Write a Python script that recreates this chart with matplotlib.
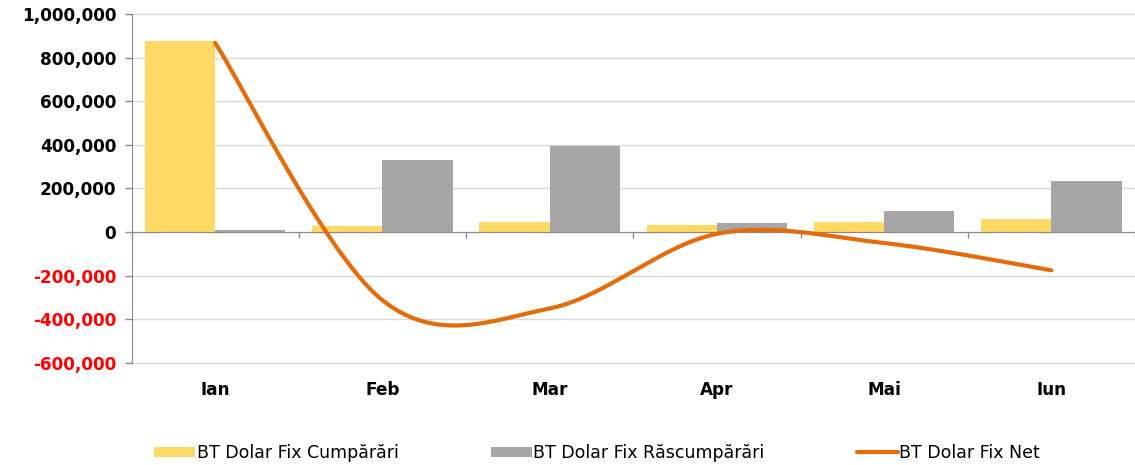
import matplotlib
matplotlib.use("Agg")
import matplotlib.pyplot as plt
from matplotlib.ticker import FuncFormatter, FixedLocator
import numpy as np

months = ["Ian", "Feb", "Mar", "Apr", "Mai", "Iun"]
cumparari = [878000, 27000, 46000, 32000, 46000, 60000]
rascumparari = [10000, 330000, 394000, 40000, 96000, 234000]
net = [868000, -312000, -350000, -8000, -50000, -175000]

yellow = "#FFD966"
gray = "#A6A6A6"
orange = "#E46C0A"
axis_gray = "#898989"
grid_gray = "#D9D9D9"


def excel_smooth(xs, ys, n=60):
    # cubic bezier through points, control points like Excel's smoothed line
    p = np.column_stack([xs, ys]).astype(float)
    m = len(p)
    out = []
    for i in range(m - 1):
        p0 = p[max(i - 1, 0)]
        p1 = p[i]
        p2 = p[i + 1]
        p3 = p[min(i + 2, m - 1)]
        c1 = p1 + (p2 - p0) / 6.0
        c2 = p2 - (p3 - p1) / 6.0
        t = np.linspace(0, 1, n)[:, None]
        seg = ((1 - t) ** 3) * p1 + 3 * ((1 - t) ** 2) * t * c1 \
            + 3 * (1 - t) * t ** 2 * c2 + t ** 3 * p2
        out.append(seg if i == 0 else seg[1:])
    out = np.vstack(out)
    return out[:, 0], out[:, 1]


fig = plt.figure(figsize=(11.35, 4.65), dpi=100)
ax = fig.add_axes([131.5 / 1135, 1 - 363 / 465, 1 - 131.5 / 1135, 349 / 465])

x = np.arange(len(months))
w = 0.42
ax.bar(x - w / 2, cumparari, width=w, color=yellow, zorder=2,
       label="BT Dolar Fix Cumpărări")
ax.bar(x + w / 2, rascumparari, width=w, color=gray, zorder=2,
       label="BT Dolar Fix Răscumpărări")

# smooth in a space where x and y units have the same pixel size
sy = 1.0 / 168.6 * 43.54 / 200000
sx_, sy_ = excel_smooth(x, np.array(net) * sy)
ax.plot(sx_, sy_ / sy, color=orange, lw=3, zorder=3,
        solid_capstyle="round", label="BT Dolar Fix Net")

ax.set_xlim(-0.5, (1135 - 215.7) / 168.6)
ax.set_ylim(-600000, 1000000)

# y axis
ax.yaxis.set_major_locator(FixedLocator(np.arange(-600000, 1000001, 200000)))
ax.yaxis.set_major_formatter(FuncFormatter(lambda v, p: f"{int(v):,}"))
ax.tick_params(axis="y", direction="out", length=5, width=1,
               color=axis_gray, pad=6, labelsize=12.2)
for lab in ax.get_yticklabels():
    lab.set_fontweight("bold")
    lab.set_color("#FF0000" if lab.get_position()[1] < 0 else "black")
ax.grid(axis="y", color=grid_gray, lw=1, zorder=0)
for gl in ax.get_ygridlines():
    gl.set_clip_on(False)
ax.set_axisbelow(True)

# x axis on the zero line
ax.spines["bottom"].set_position(("data", 0))
ax.spines["bottom"].set_color(axis_gray)
ax.spines["bottom"].set_zorder(2.5)
ax.spines["left"].set_color(axis_gray)
ax.spines["top"].set_visible(False)
ax.spines["right"].set_visible(False)
ax.set_xticks(x)
ax.set_xticklabels(months, fontweight="bold", fontsize=12.2)
ax.set_xticks(np.arange(-0.5, len(months), 1.0), minor=True)
ax.tick_params(axis="x", which="major", length=0, pad=107)
ax.tick_params(axis="x", which="minor", length=4, width=1, color=axis_gray,
               direction="out")

handles, labels = ax.get_legend_handles_labels()
order = [1, 2, 0]
fig.legend([handles[i] for i in order], [labels[i] for i in order],
           loc="center", bbox_to_anchor=(597 / 1135, 1 - 453 / 465),
           ncol=3, frameon=False, fontsize=12.5, handlelength=2.36,
           handleheight=0.55, handletextpad=0.1, columnspacing=5.3)

fig.savefig("out.png", dpi=100)
